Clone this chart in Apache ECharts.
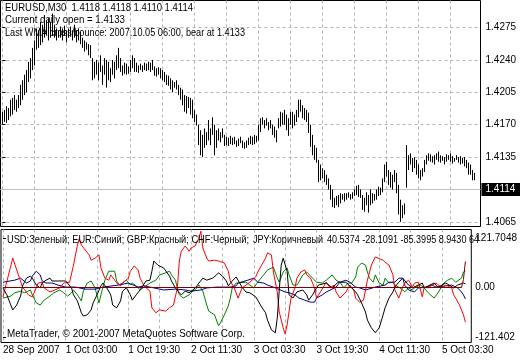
<!DOCTYPE html>
<html><head><meta charset="utf-8">
<script src="https://cdn.jsdelivr.net/npm/echarts@6/dist/echarts.min.js"></script>
<style>html,body{margin:0;padding:0;background:#fff}#c{width:520px;height:360px}</style>
</head><body><div id="c"></div>
<script>
// ---- price bars (M30), highs and lows ----
const barHigh = [
1.4184,1.4186,1.4190,1.4188,1.4197,1.4199,1.4202,1.4197,1.4202,1.4213,
1.4218,1.4224,1.4229,1.4238,1.4242,1.4253,1.4261,1.4274,1.4272,1.4281,
1.4278,1.4288,1.4283,1.4285,1.4281,1.4290,1.4278,1.4274,1.4272,1.4276,
1.4274,1.4277,1.4272,1.4274,1.4276,1.4272,1.4278,1.4272,1.4274,1.4270,
1.4264,1.4261,1.4259,1.4257,1.4256,1.4242,1.4238,1.4240,1.4237,1.4245,
1.4234,1.4242,1.4240,1.4238,1.4231,1.4240,1.4238,1.4245,1.4253,1.4242,
1.4234,1.4237,1.4236,1.4233,1.4240,1.4245,1.4242,1.4237,1.4234,1.4236,
1.4234,1.4237,1.4236,1.4238,1.4237,1.4240,1.4233,1.4231,1.4232,1.4231,
1.4229,1.4227,1.4224,1.4223,1.4220,1.4218,1.4216,1.4218,1.4213,1.4210,
1.4208,1.4202,1.4201,1.4200,1.4199,1.4197,1.4186,1.4181,1.4170,1.4164,
1.4159,1.4166,1.4162,1.4175,1.4166,1.4178,1.4170,1.4164,1.4166,1.4162,
1.4166,1.4159,1.4157,1.4156,1.4158,1.4156,1.4157,1.4153,1.4155,1.4157,
1.4153,1.4151,1.4153,1.4156,1.4158,1.4157,1.4159,1.4158,1.4170,1.4177,
1.4178,1.4175,1.4177,1.4173,1.4175,1.4170,1.4168,1.4164,1.4177,1.4184,
1.4183,1.4186,1.4181,1.4177,1.4184,1.4184,1.4181,1.4186,1.4197,1.4197,
1.4191,1.4188,1.4186,1.4183,1.4170,1.4159,1.4148,1.4145,1.4132,1.4127,
1.4123,1.4121,1.4116,1.4112,1.4105,1.4100,1.4091,1.4093,1.4094,1.4096,
1.4095,1.4096,1.4096,1.4097,1.4095,1.4097,1.4100,1.4104,1.4105,1.4100,
1.4094,1.4091,1.4097,1.4094,1.4100,1.4096,1.4095,1.4100,1.4103,1.4102,
1.4112,1.4127,1.4130,1.4121,1.4119,1.4116,1.4121,1.4118,1.4105,1.4089,
1.4083,1.4085,1.4148,1.4137,1.4139,1.4134,1.4135,1.4132,1.4127,1.4121,
1.4123,1.4132,1.4137,1.4139,1.4138,1.4136,1.4137,1.4139,1.4141,1.4137,
1.4136,1.4135,1.4138,1.4137,1.4139,1.4136,1.4134,1.4137,1.4135,1.4136,
1.4134,1.4135,1.4132,1.4129,1.4127,1.4121,1.4118];
const barLow = [
1.4170,1.4173,1.4172,1.4175,1.4179,1.4181,1.4186,1.4184,1.4188,1.4191,
1.4197,1.4202,1.4205,1.4216,1.4220,1.4229,1.4234,1.4251,1.4253,1.4256,
1.4259,1.4264,1.4267,1.4261,1.4264,1.4266,1.4264,1.4261,1.4264,1.4264,
1.4261,1.4266,1.4259,1.4264,1.4265,1.4261,1.4264,1.4259,1.4261,1.4257,
1.4253,1.4249,1.4251,1.4245,1.4242,1.4218,1.4220,1.4224,1.4218,1.4227,
1.4213,1.4224,1.4210,1.4218,1.4216,1.4224,1.4220,1.4229,1.4231,1.4227,
1.4223,1.4225,1.4224,1.4225,1.4227,1.4231,1.4227,1.4227,1.4226,1.4229,
1.4227,1.4229,1.4228,1.4229,1.4227,1.4229,1.4223,1.4222,1.4224,1.4220,
1.4218,1.4216,1.4213,1.4212,1.4208,1.4205,1.4210,1.4208,1.4202,1.4197,
1.4191,1.4184,1.4182,1.4188,1.4181,1.4177,1.4173,1.4169,1.4148,1.4137,
1.4135,1.4145,1.4148,1.4153,1.4148,1.4159,1.4137,1.4145,1.4153,1.4151,
1.4156,1.4147,1.4148,1.4147,1.4149,1.4148,1.4149,1.4146,1.4147,1.4150,
1.4145,1.4144,1.4145,1.4148,1.4149,1.4148,1.4149,1.4151,1.4153,1.4162,
1.4170,1.4166,1.4169,1.4164,1.4166,1.4159,1.4156,1.4151,1.4166,1.4168,
1.4170,1.4170,1.4164,1.4158,1.4170,1.4166,1.4169,1.4173,1.4178,1.4184,
1.4177,1.4175,1.4173,1.4161,1.4146,1.4137,1.4132,1.4129,1.4108,1.4110,
1.4112,1.4108,1.4105,1.4100,1.4089,1.4081,1.4080,1.4083,1.4081,1.4085,
1.4089,1.4087,1.4089,1.4091,1.4089,1.4090,1.4093,1.4094,1.4092,1.4091,
1.4078,1.4076,1.4083,1.4075,1.4083,1.4085,1.4088,1.4089,1.4093,1.4094,
1.4097,1.4108,1.4114,1.4105,1.4102,1.4100,1.4108,1.4096,1.4073,1.4065,
1.4069,1.4073,1.4102,1.4121,1.4127,1.4119,1.4123,1.4116,1.4112,1.4110,
1.4114,1.4119,1.4127,1.4131,1.4130,1.4129,1.4127,1.4132,1.4130,1.4129,
1.4131,1.4127,1.4130,1.4132,1.4130,1.4128,1.4130,1.4132,1.4129,1.4127,
1.4128,1.4125,1.4123,1.4116,1.4116,1.4110,1.4110];
const lastClose = 1.4114;

// ---- axis ticks ----
const priceTicks = [1.4065, 1.4100, 1.4135, 1.4170, 1.4205, 1.4240, 1.4275];
const xTickBars = [0, 32, 64, 96, 128, 160, 192, 224];
const xTickLabels = ['28 Sep 2007','1 Oct 03:00','1 Oct 19:30','2 Oct 11:30','3 Oct 03:30','3 Oct 19:30','4 Oct 11:30','5 Oct 03:30'];
const xGridBars = [0, 16, 32, 48, 64, 80, 96, 112, 128, 144, 160, 176, 192, 208, 224];
const indTicks = [121.7048, 0, -121.402];
const indTickLabels = ['121.7048', '0.00', '-121.402'];

// ---- indicator lines: [bar index, value] ----
const usd = [[0,-26],[4,-21],[6,-13],[9,-9],[11,-13],[14,-6],[15,-18],[17,-38],[19,-43],[21,-31],[24,-21],[26,-13],[29,-6],[31,-13],[33,-21],[35,-13],[36,-6],[38,-18],[40,-33],[41,-9],[43,11],[45,16],[46,18],[47,-1],[49,-38],[50,-18],[52,18],[54,40],[55,43],[57,40],[58,16],[60,4],[61,11],[63,18],[65,6],[66,11],[68,4],[70,-6],[73,4],[75,11],[78,18],[80,31],[83,36],[85,40],[86,31],[88,18],[89,-1],[90,-18],[92,-26],[95,-18],[97,-9],[99,-1],[100,6],[102,-9],[104,-43],[105,-58],[108,-67],[110,-94],[111,-87],[113,-67],[115,-45],[116,-26],[117,-1],[119,11],[120,13],[124,13],[126,6],[128,-1],[130,13],[133,31],[135,43],[138,50],[139,48],[140,23],[141,13],[143,38],[145,48],[146,31],[148,6],[150,6],[151,13],[153,31],[155,38],[156,38],[158,23],[160,13],[163,11],[165,18],[168,31],[170,18],[172,13],[174,-1],[176,11],[178,11],[180,26],[181,50],[183,60],[185,55],[186,38],[187,23],[189,13],[190,31],[192,11],[194,6],[195,23],[197,11],[199,13],[200,6],[202,1],[204,-6],[205,-11],[207,-1],[209,-6],[210,-1],[213,6],[215,-1],[217,-13],[220,-26],[222,-13],[225,11],[227,18],[229,23],[231,13],[232,11],[234,23],[235,38],[236,40.5374]];
const eur = [[0,13],[6,18],[9,23],[12,11],[14,16],[15,28],[17,40],[19,31],[20,16],[22,11],[25,11],[28,6],[32,1],[37,1],[42,-4],[47,-4],[51,1],[59,6],[64,11],[69,1],[72,4],[80,-4],[82,-6],[88,-4],[93,-6],[96,-9],[101,-6],[104,-1],[109,1],[116,1],[119,4],[120,11],[125,18],[128,23],[130,13],[133,11],[135,6],[138,1],[144,-11],[146,-13],[149,-18],[151,-26],[154,-31],[157,-36],[159,-36],[160,-26],[163,-18],[165,-11],[170,1],[172,13],[175,18],[177,13],[180,1],[182,-1],[185,-6],[190,1],[195,6],[197,13],[200,13],[202,23],[204,23],[205,6],[207,-6],[210,-11],[212,-1],[216,1],[219,6],[221,1],[226,4],[229,6],[232,-1],[234,-11],[235,-18],[236,-28.1091]];
const gbp = [[0,-23],[5,72],[10,1],[13,-18],[15,-23],[18,11],[20,13],[21,-1],[24,-11],[29,-1],[31,11],[34,13],[36,55],[38,104],[39,121],[40,104],[42,92],[44,80],[45,67],[47,72],[49,80],[50,48],[52,23],[54,18],[55,31],[57,18],[59,6],[61,11],[64,23],[65,40],[67,53],[69,43],[70,23],[72,4],[75,-9],[76,-50],[78,-62],[80,-55],[83,-58],[85,-50],[87,-43],[89,-1],[90,65],[91,89],[93,102],[95,89],[96,97],[98,102],[100,121],[101,138],[102,97],[104,72],[105,65],[108,67],[110,65],[113,60],[115,40],[116,16],[118,-1],[120,-26],[122,-1],[124,6],[126,13],[129,26],[130,38],[132,55],[134,72],[135,85],[137,80],[138,38],[140,-11],[141,-60],[143,-99],[144,-114],[145,-92],[147,-26],[149,-1],[150,23],[152,38],[154,43],[155,31],[157,23],[159,-1],[160,-26],[162,-11],[165,13],[167,-1],[169,6],[170,-11],[172,-26],[175,-11],[177,6],[179,-6],[180,-26],[182,-36],[184,-31],[186,18],[188,55],[190,75],[191,72],[194,67],[195,62],[197,55],[199,31],[200,-6],[202,-26],[204,1],[205,11],[207,18],[209,1],[210,11],[212,13],[214,-23],[215,1],[217,-1],[219,6],[221,11],[224,-1],[226,6],[229,-1],[230,-18],[231,-26],[233,-43],[235,-67],[236,-85.3995]];
const chf = [[0,-1],[2,-18],[4,-43],[5,-55],[7,-43],[9,-21],[10,4],[12,23],[14,28],[15,23],[17,6],[19,-1],[20,11],[22,18],[24,23],[25,16],[28,16],[32,16],[35,-1],[36,-18],[38,-33],[40,-62],[41,-70],[43,-67],[45,-55],[46,-38],[48,-18],[50,4],[51,11],[53,-1],[55,-18],[56,-43],[58,-50],[60,-33],[61,-9],[63,-1],[65,-18],[66,-31],[68,-18],[70,-6],[73,16],[75,18],[76,40],[77,65],[79,55],[80,53],[82,48],[85,28],[86,16],[88,-1],[90,-13],[91,-18],[93,-9],[95,-13],[97,-6],[99,4],[100,11],[102,23],[104,18],[105,16],[107,23],[109,31],[110,36],[112,28],[114,16],[115,4],[117,16],[119,26],[120,26],[122,1],[124,-11],[126,-13],[129,-23],[130,-31],[132,-48],[134,-62],[135,-80],[137,-104],[139,-111],[140,-75],[141,-6],[142,55],[143,72],[144,75],[145,40],[146,-18],[148,-26],[150,-11],[153,-6],[155,-18],[156,-31],[158,-18],[160,-1],[161,6],[165,11],[168,-1],[171,13],[175,13],[178,-1],[180,-11],[181,-18],[183,-38],[185,-60],[186,-80],[188,-99],[190,-111],[192,-99],[194,-67],[195,-50],[197,-26],[199,-11],[200,1],[202,13],[204,23],[207,6],[209,-1],[214,11],[215,-1],[220,11],[222,1],[226,11],[230,-1],[232,6],[235,11],[236,8.943]];
const jpy = [[0,0],[234,0],[235,20],[236,64]];

// ---- texts ----
const headerLines = ['EURUSD,M30  1.4118 1.4118 1.4110 1.4114', 'Current daily open = 1.4133', 'Last WMA cross/bounce: 2007.10.05 06:00, bear at 1.4133'];
const indicatorParts = ['USD:Зеленый; EUR:Синий; GBP:Красный; CHF:Черный;', 'JPY:Коричневый', '40.5374 -28.1091 -85.3995 8.9430 64'];
const copyright = 'MetaTrader, © 2001-2007 MetaQuotes Software Corp.';

const FF = '"Liberation Sans", Arial, sans-serif';
const FS = 10;
const TFONT = '10.5px ' + FF;
const GRIDC = '#b4b4b4';

const chart = echarts.init(document.getElementById('c'), null, {renderer: 'canvas', width: 520, height: 360});

const ctx = document.createElement('canvas').getContext('2d');
ctx.font = TFONT;
// text placed from x0 to x1 (horizontal fit)
const txt = (text, x0, x1, y) => ({
  type: 'text', x: x0, y, scaleX: (x1 - x0) / ctx.measureText(text).width, z: 100, silent: true,
  style: {text, fill: '#000', font: TFONT, verticalAlign: 'middle'}
});

const lineSeries = (name, data, color) => ({
  name, type: 'line', xAxisIndex: 1, yAxisIndex: 1, data,
  showSymbol: false, symbol: 'none', silent: true, animation: false,
  lineStyle: {color, width: 1}
});

chart.setOption({
  animation: false,
  backgroundColor: '#fff',
  grid: [
    {left: 0.5, top: 0.5, width: 480, height: 226, show: true, borderColor: '#000', borderWidth: 1, backgroundColor: '#fff'},
    {left: 0.5, top: 229.5, width: 480, height: 113, show: true, borderColor: '#000', borderWidth: 1, backgroundColor: '#fff'}
  ],
  xAxis: [
    {gridIndex: 0, type: 'value', min: -1, max: 239,
     axisLine: {show: false}, axisTick: {show: false, customValues: xGridBars}, axisLabel: {show: false},
     splitLine: {show: true, lineStyle: {color: GRIDC, width: 1, type: [3, 3]}}},
    {gridIndex: 1, type: 'value', min: -1, max: 239,
     axisLine: {show: false}, axisTick: {show: false, customValues: xGridBars},
     axisLabel: {show: true, customValues: xTickBars, formatter: v => xTickLabels[xTickBars.indexOf(v)],
       align: 'left', margin: 3, color: '#000', fontFamily: FF, fontSize: FS, hideOverlap: false},
     splitLine: {show: true, lineStyle: {color: GRIDC, width: 1, type: [3, 3]}}}
  ],
  yAxis: [
    {gridIndex: 0, type: 'value', position: 'right', min: 1.406004, max: 1.430417,
     axisLine: {show: false},
     axisTick: {show: true, customValues: priceTicks, length: 3, lineStyle: {color: '#000'}},
     axisLabel: {customValues: priceTicks, formatter: v => v.toFixed(4), margin: 5, color: '#000', fontFamily: FF, fontSize: FS},
     splitLine: {show: true, lineStyle: {color: GRIDC, width: 1, type: [3, 3]}}},
    {gridIndex: 1, type: 'value', position: 'right', min: -135.0, max: 142.37,
     axisLine: {show: false},
     axisTick: {show: true, customValues: indTicks, length: 3, lineStyle: {color: '#000'}},
     axisLabel: {customValues: indTicks, formatter: v => indTickLabels[indTicks.indexOf(v)], margin: 4, color: '#000', fontFamily: FF, fontSize: FS},
     splitLine: {show: false}}
  ],
  series: [
    {type: 'custom', xAxisIndex: 0, yAxisIndex: 0, silent: true, animation: false,
     data: barHigh.map((h, i) => [i, barLow[i], h]),
     encode: {x: 0, y: [1, 2]},
     renderItem: (params, api) => {
       const lo = api.coord([api.value(0), api.value(1)]);
       const hi = api.coord([api.value(0), api.value(2)]);
       return {type: 'line', shape: {x1: lo[0], y1: lo[1], x2: hi[0], y2: hi[1]}, style: {stroke: '#000', lineWidth: 1}};
     },
     markLine: {
       silent: true, animation: false, symbol: ['none', 'none'], z: 1,
       data: [{yAxis: lastClose}],
       lineStyle: {color: '#c0c0c0', type: 'solid', width: 1},
       label: {show: true, position: 'end', distance: 1, formatter: lastClose.toFixed(4), color: '#fff',
         backgroundColor: '#000', padding: [2, 6, 1, 4], fontFamily: FF, fontSize: FS}
     }
    },
    lineSeries('USD', usd, '#008000'),
    lineSeries('EUR', eur, '#000080'),
    lineSeries('GBP', gbp, '#ff0000'),
    lineSeries('CHF', chf, '#000000'),
    lineSeries('JPY', jpy, '#800000')
  ],
  graphic: [
    txt(headerLines[0], 5, 193, 8),
    txt(headerLines[1], 5, 125, 20.5),
    txt(headerLines[2], 5, 245, 33),
    txt(indicatorParts[0], 7, 249, 240),
    txt(indicatorParts[1], 253, 323, 240),
    txt(indicatorParts[2], 327, 479, 240),
    txt(copyright, 7, 245, 334)
  ]
});
</script>
</body></html>
